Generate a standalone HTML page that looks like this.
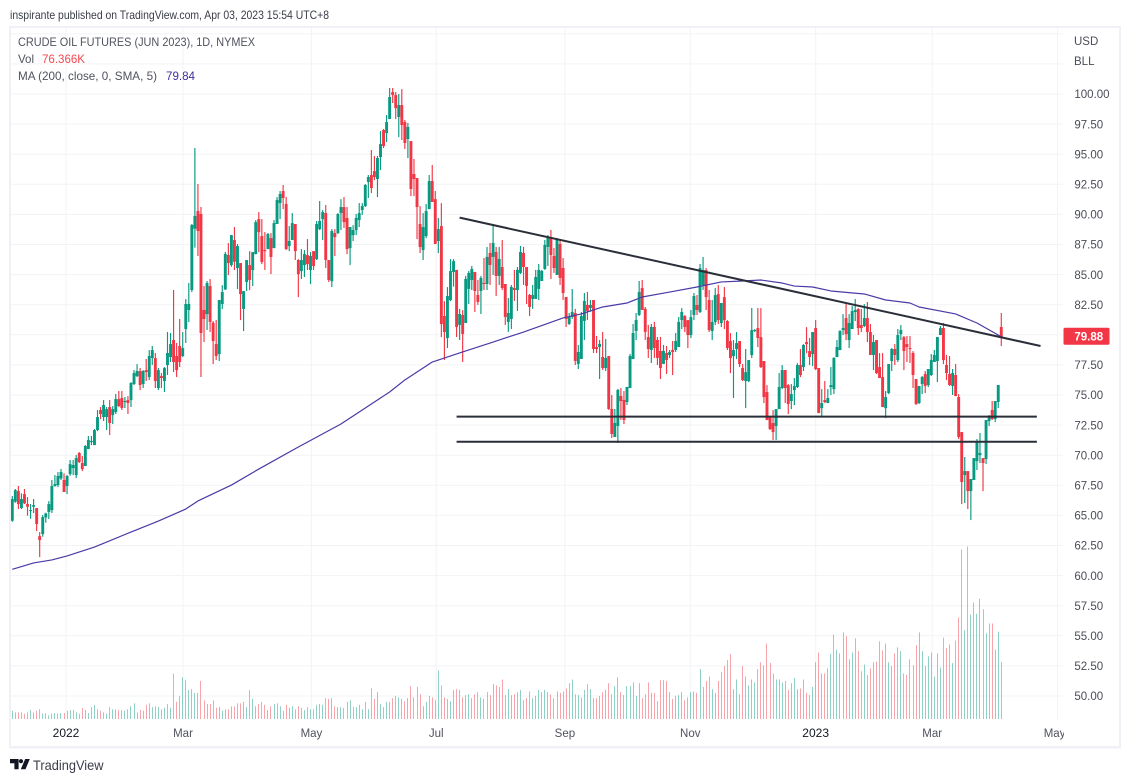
<!DOCTYPE html>
<html lang="en">
<head>
<meta charset="utf-8">
<title>Crude Oil Futures (Jun 2023) chart</title>
<style>
html,body{margin:0;padding:0;background:#fff;width:1130px;height:782px;overflow:hidden}
svg{display:block;font-family:"Liberation Sans",Arial,sans-serif}
</style>
</head>
<body>
<svg id="chart" xmlns="http://www.w3.org/2000/svg" width="1130" height="782" viewBox="0 0 1130 782">
  <defs><clipPath id="plot-clip"><rect x="10" y="28" width="1053" height="692"/></clipPath>
  <clipPath id="axis-clip"><rect x="11" y="722" width="1053" height="24"/></clipPath></defs>
  <text x="10" y="19" font-size="12" fill="#3a3d46" textLength="319" lengthAdjust="spacingAndGlyphs">inspirante published on TradingView.com, Apr 03, 2023 15:54 UTC+8</text>
  <g id="grid"></g>
  <g id="volumes" clip-path="url(#plot-clip)"></g>
  <g id="candles" clip-path="url(#plot-clip)"></g>
  <g id="ma" clip-path="url(#plot-clip)"></g>
  <g id="drawings"></g>
  <g id="y-axis"></g>
  <g id="x-axis" clip-path="url(#axis-clip)"></g>
  <g fill="#f0f0f6">
    <rect x="9" y="26" width="1112" height="2"/>
    <rect x="9" y="746" width="1112" height="2.5"/>
    <rect x="9" y="26" width="2" height="722"/>
    <rect x="1119" y="26" width="2" height="722"/>
  </g>
  <g font-size="12">
    <text x="18" y="46" fill="#50535e" textLength="237" lengthAdjust="spacingAndGlyphs">CRUDE OIL FUTURES (JUN 2023), 1D, NYMEX</text>
    <text x="18" y="63" fill="#50535e" textLength="16" lengthAdjust="spacingAndGlyphs">Vol</text>
    <text x="42" y="63" fill="#f5484f" textLength="43" lengthAdjust="spacingAndGlyphs">76.366K</text>
    <text x="18" y="80" fill="#50535e" textLength="139" lengthAdjust="spacingAndGlyphs">MA (200, close, 0, SMA, 5)</text>
    <text x="166" y="80" fill="#3f2f9e" textLength="29" lengthAdjust="spacingAndGlyphs">79.84</text>
  </g>
  <text x="1074" y="45" font-size="11.5" fill="#4a4d57">USD</text>
  <text x="1074" y="65" font-size="11.5" fill="#4a4d57">BLL</text>
  <g>
    <path fill="#131722" d="M10 759h8.6v10.2h-4.2v-6h-4.4zM25.2 759h4.6l-4.3 10.2h-4.7z"/>
    <circle cx="21" cy="761.2" r="2.1" fill="#131722"/>
    <text x="33" y="770" font-size="14" fill="#3b3e48" textLength="70.5" lengthAdjust="spacingAndGlyphs">TradingView</text>
  </g>
</svg>
<script>
const opens=[
62.95,64.56,66.14,67.02,65.61,66.77,65.94,65.39,65.72,65.61,
63.28,63.45,64.83,65.28,65.44,67.44,67.52,68.07,67.94,67.44,
68.43,68.93,68.35,70.18,69.35,69.10,70.51,71.09,70.84,72.09,
73.75,73.17,73.17,74.00,73.33,73.58,74.66,74.75,74.44,74.58,
74.58,75.91,76.57,76.99,75.91,77.07,76.49,78.07,78.07,75.58,
76.57,76.16,77.49,78.15,79.57,78.24,79.07,78.24,80.48,82.06,
83.72,88.81,90.28,90.03,82.06,81.72,84.05,81.00,79.23,78.40,
82.56,83.77,86.63,
85.79,87.87,85.54,85.96,82.14,84.38,85.79,85.38,86.70,89.61,
88.20,87.04,87.12,88.03,87.20,89.20,90.94,91.94,90.86,87.37,
87.87,89.20,86.21,85.29,85.79,86.62,85.38,86.95,86.29,88.78,
89.61,90.11,86.21,84.46,88.45,88.45,90.11,90.61,89.70,87.20,
88.28,88.70,89.53,90.36,90.69,92.69,93.27,93.60,92.94,94.76,
97.01,96.76,97.92,100.16,99.91,98.09,99.08,97.67,96.26,96.09,
93.35,93.02,89.20,87.04,88.20,90.44,92.77,91.27,87.79,89.03,
81.56,79.73,82.88,85.21,
85.39,80.82,81.65,80.98,83.81,84.55,85.22,83.31,83.64,84.31,
84.22,86.80,86.47,86.88,84.89,85.63,84.22,81.07,81.32,83.89,
83.72,85.14,86.80,85.63,83.31,82.98,82.98,83.81,84.47,85.47,
87.30,88.04,86.55,84.97,87.55,85.55,83.14,80.90,81.48,81.81,
77.58,77.99,81.15,82.48,82.23,82.89,78.99,78.99,78.16,77.24,
78.24,73.84,71.51,72.43,74.92,74.59,74.42,75.58,77.99,80.32,
81.65,83.89,82.15,79.82,78.74,80.65,79.57,78.66,77.58,78.49,
78.32,78.74,78.74,78.99,
81.22,81.56,81.22,79.98,81.64,82.47,81.89,84.13,85.38,82.89,
80.31,81.06,83.38,80.98,83.13,81.14,79.48,78.23,78.82,79.48,
77.24,76.16,76.16,78.32,80.31,80.56,79.81,77.82,75.24,73.25,
72.67,72.42,73.83,75.58,77.07,75.82,74.50,75.41,75.66,77.49,
77.32,79.40,78.65,78.40,80.56,77.24,73.91,74.58,74.33,75.66,
75.49,78.15,78.73,80.39,81.39,79.56,80.48,81.89,82.14,80.81,
80.73,81.39,80.23,78.32,79.56,77.32,76.49,73.91,75.16,77.82,
78.82,77.90,80.06,79.81,79.23,78.90,
78.49,76.33,74.33,75.91,76.74,75.83,76.66,77.74,77.82,79.98,
80.56,77.49,76.74,75.75,76.66,74.83,71.92,68.35,68.68,67.02,
67.94,69.51,70.01,69.76,69.68,72.84,73.75,73.00,74.42,80.65];

const closes=[
64.45,66.36,67.10,65.94,66.36,66.00,65.72,65.44,65.86,64.28,
62.95,64.86,65.17,65.94,67.44,67.60,68.27,68.60,66.94,68.27,
69.26,69.18,69.76,69.43,68.85,70.76,71.26,71.18,72.09,73.17,
73.42,74.17,73.83,72.67,73.83,74.66,74.08,73.92,74.50,74.33,
75.99,76.82,76.99,75.83,76.99,76.91,78.24,78.73,76.16,77.07,
76.41,77.24,78.49,79.23,77.74,77.07,77.74,78.90,82.56,82.56,
89.12,89.87,88.62,80.15,81.31,84.30,81.06,79.48,78.24,82.89,
83.55,86.71,85.96,
88.28,86.07,87.37,83.38,83.63,86.21,84.55,86.87,89.36,88.53,
86.04,86.95,88.37,86.46,89.28,91.19,91.69,91.36,87.12,87.79,
89.28,86.95,85.04,86.21,86.70,85.87,86.54,85.71,89.20,89.45,
90.19,86.21,84.55,88.62,88.12,90.03,90.61,89.36,87.12,88.95,
88.70,89.70,90.11,90.69,92.44,93.10,92.19,93.10,94.68,95.84,
95.68,97.67,99.75,99.91,98.83,99.08,97.42,95.93,97.26,92.11,
92.94,90.61,87.29,88.95,90.28,92.77,91.03,87.54,88.78,80.89,
80.23,83.22,85.29,86.12,
80.65,81.73,80.07,84.64,85.14,85.47,83.64,82.73,84.72,84.22,
86.47,85.80,87.63,84.89,86.30,83.89,81.48,81.81,83.97,83.72,
85.39,86.88,85.63,84.06,82.31,83.31,84.80,85.39,85.30,87.46,
88.04,86.63,85.55,87.96,84.72,83.47,81.32,81.48,81.90,77.83,
78.57,81.56,82.81,81.98,82.48,78.82,78.82,79.24,77.24,78.08,
73.84,71.76,72.68,75.42,74.50,72.93,75.67,78.24,80.15,81.23,
83.56,82.06,80.24,78.82,80.65,78.91,78.08,77.24,78.66,77.91,
78.57,78.57,79.49,81.07,
81.89,80.64,79.98,81.47,83.22,82.06,85.54,85.38,83.13,80.39,
81.06,83.30,81.22,82.64,81.22,78.90,78.07,78.73,79.31,77.57,
76.24,76.90,77.90,80.39,80.39,79.73,77.32,74.83,72.92,72.17,
71.92,73.83,75.66,77.07,75.58,74.25,75.08,75.74,77.49,76.66,
79.15,79.23,78.15,80.23,77.15,73.50,74.33,74.41,74.75,75.82,
78.07,78.98,80.31,80.56,80.06,80.98,81.97,82.06,80.56,80.56,
81.39,80.23,78.32,79.40,76.82,76.41,74.00,74.83,77.57,78.82,
78.32,79.98,80.39,78.65,78.98,78.82,
76.66,74.25,75.75,76.49,75.75,77.16,77.90,78.32,79.82,80.56,
77.90,76.83,75.83,76.83,74.91,71.51,67.77,68.68,67.02,68.02,
69.76,71.09,70.18,69.35,72.92,73.25,73.00,74.50,75.83,79.82];

const highs=[
64.45,66.61,67.19,67.44,66.83,67.19,66.52,65.94,66.36,65.61,
63.62,65.03,65.22,66.19,67.94,68.35,68.60,68.85,68.49,68.35,
69.60,69.60,70.01,70.26,69.93,70.84,71.59,71.59,72.17,73.75,
74.00,74.58,74.00,74.58,74.08,75.08,75.33,75.33,74.83,74.91,
76.07,77.07,77.57,77.24,77.07,77.99,78.73,79.07,78.49,77.24,
76.82,77.32,80.23,80.15,83.72,79.32,81.31,80.23,82.97,84.30,
89.20,95.51,92.52,90.61,84.05,84.47,84.63,81.14,81.23,82.89,
84.13,86.88,87.62,
88.28,88.95,87.54,85.96,83.63,86.21,86.95,86.87,89.53,90.19,
89.61,88.53,88.45,88.45,89.53,91.44,91.94,92.44,91.44,89.03,
90.11,89.20,86.29,87.12,87.04,87.95,86.87,86.95,89.45,91.11,
90.36,90.78,86.21,88.78,88.78,90.11,91.27,91.44,90.61,88.95,
89.11,90.03,90.94,90.94,92.52,93.27,95.35,94.85,94.85,96.92,
97.09,98.25,100.50,100.50,100.16,100.00,100.41,97.84,97.59,96.09,
94.60,93.02,90.69,90.11,90.86,93.27,94.10,91.94,89.70,90.94,
82.80,83.96,86.29,86.29,
85.39,82.15,82.06,84.89,85.30,85.72,85.22,84.55,84.89,86.38,
87.30,87.63,89.12,87.30,87.30,87.88,84.22,83.06,84.14,85.39,
85.63,87.38,87.30,85.63,83.39,84.14,85.39,85.88,85.39,87.88,
88.29,88.71,87.21,88.04,87.88,86.38,83.14,81.81,83.81,82.15,
79.16,81.90,83.47,83.56,82.89,82.89,79.90,79.57,80.24,79.65,
78.24,75.00,73.84,75.50,75.58,75.33,75.67,78.41,80.90,81.81,
84.47,84.55,82.31,80.82,80.90,81.07,79.82,79.82,79.16,79.07,
78.74,79.49,80.15,81.48,
82.22,81.64,81.22,82.06,83.47,83.30,85.88,86.46,85.54,83.72,
82.89,83.88,84.13,82.64,83.97,81.22,80.14,79.56,80.23,79.48,
77.57,78.82,77.90,82.22,80.48,82.22,82.22,77.82,75.82,73.25,
73.75,73.83,76.82,77.49,77.07,75.91,75.91,76.41,77.65,78.82,
79.23,80.64,79.73,80.23,81.22,77.24,75.49,76.16,75.49,77.32,
78.15,79.56,80.39,81.72,82.55,81.72,82.39,82.97,82.22,82.14,
82.55,82.72,80.89,79.98,79.56,78.48,78.48,75.33,77.57,78.90,
79.23,80.48,80.81,79.90,79.90,79.90,
78.65,76.33,75.75,76.58,76.99,77.16,78.40,78.74,79.82,80.73,
80.98,78.32,78.24,77.16,77.57,75.08,71.92,69.85,68.68,68.02,
69.76,71.34,71.84,69.76,72.92,73.34,74.50,74.50,75.83,81.81];

const lows=[
62.95,64.47,66.05,65.53,65.53,65.94,64.97,64.72,65.20,63.70,
61.54,63.23,64.39,64.70,65.19,67.38,67.35,67.94,66.94,66.77,
68.29,68.35,68.10,69.35,68.68,69.10,70.51,70.84,70.84,72.00,
73.00,72.84,72.09,71.67,72.59,73.42,74.00,73.75,73.92,73.42,
74.00,75.83,76.49,75.41,75.58,76.16,76.24,77.49,75.58,75.41,
75.58,75.25,76.66,77.74,76.91,76.49,77.32,78.15,79.32,81.06,
83.55,87.24,86.54,76.49,79.40,80.40,80.23,77.57,77.90,77.82,
82.14,83.72,84.96,
85.65,85.38,83.80,81.22,80.31,83.63,83.71,84.05,86.70,86.87,
85.87,85.38,87.12,85.04,87.20,89.20,89.61,90.44,87.04,86.95,
87.87,86.21,83.13,84.63,84.80,85.38,84.21,85.38,86.21,88.70,
87.87,85.54,84.38,83.96,86.54,88.37,88.70,88.87,86.70,85.79,
87.79,88.28,88.95,89.95,90.61,91.36,91.77,92.85,91.44,93.68,
95.51,96.01,97.92,99.25,97.92,96.42,96.18,95.43,94.68,91.52,
91.52,87.95,86.79,86.21,88.03,90.44,91.03,87.54,86.79,79.81,
77.90,78.90,82.80,84.00,
79.82,79.57,77.74,80.98,82.56,83.72,81.90,82.48,81.73,83.72,
83.72,84.14,84.97,83.23,84.14,83.72,80.82,80.24,80.48,82.81,
81.98,85.05,84.14,82.56,81.56,82.15,82.98,82.89,84.47,85.39,
85.72,84.64,85.14,84.97,84.14,82.89,80.65,80.82,81.32,77.49,
77.16,77.99,79.57,81.23,81.90,78.49,78.49,76.33,77.08,77.00,
73.76,71.43,71.51,71.01,72.93,72.59,74.17,75.58,77.99,79.57,
81.56,82.06,79.57,78.08,77.66,78.08,77.49,76.33,77.58,76.75,
78.08,76.66,78.57,78.99,
80.48,80.23,78.90,79.73,81.22,81.64,81.81,83.72,82.06,80.23,
79.56,80.81,80.89,80.64,80.48,78.73,76.82,74.75,77.98,77.32,
76.16,73.91,76.07,78.07,80.23,78.98,77.24,74.33,72.92,72.09,
71.26,71.26,73.83,75.49,74.33,73.42,73.83,74.16,75.58,76.49,
76.99,78.48,77.49,77.40,77.07,73.50,73.25,74.33,74.33,74.99,
75.08,78.15,78.73,79.98,79.56,78.90,80.48,81.14,79.98,80.23,
80.64,79.40,78.32,77.07,76.74,76.41,74.00,73.08,75.08,76.99,
77.49,77.74,79.56,77.07,77.74,77.65,
75.58,74.17,74.25,75.08,75.16,75.66,76.58,77.74,76.08,79.98,
77.57,76.24,75.75,75.00,74.91,71.34,65.94,66.03,65.53,64.61,
67.94,68.77,69.35,67.02,69.27,72.42,72.92,72.75,73.92,79.07];

const volumes=[
11,11,9,9,9,7,9,12,9,11,13,
7,8,5,7,8,7,8,8,11,
12,12,9,7,15,12,8,16,19,13,
11,9,7,16,13,13,12,12,11,13,
17,21,9,12,11,19,21,16,17,16,
13,15,20,15,61,23,31,56,52,39,
40,35,35,51,25,20,20,25,15,16,
11,13,13,17,17,21,21,23,16,39,
27,17,20,23,19,12,17,20,21,17,
11,19,15,17,13,17,15,12,16,
13,13,19,20,19,28,27,28,17,16,
16,15,23,25,16,16,19,13,23,13,
41,27,36,20,16,23,23,28,31,29,
27,24,28,44,29,43,33,17,23,
31,29,25,65,45,29,27,24,39,40,
39,29,32,33,28,33,36,29,27,36,
32,47,45,43,53,32,40,32,33,36,39,25,28,37,28,31,39,36,39,36,33,28,37,35,37,41,48,53,33,32,29,39,47,40,28,28,31,36,39,48,33,44,56,36,32,44,44,
49,31,48,28,33,49,35,35,24,52,
52,51,36,27,31,32,36,25,29,36,
37,35,67,43,51,57,40,35,51,63,
71,79,87,40,53,33,71,57,45,
53,49,67,76,72,101,75,61,53,53,
49,51,39,48,55,40,41,53,35,32,
43,76,89,61,61,68,87,113,93,88,
116,111,80,89,108,91,64,73,59,68,
76,77,104,92,101,76,71,88,96,
91,61,59,80,72,99,116,91,71,84,
89,57,88,69,109,95,100,75,105,136,
227,119,231,140,156,141,161,147,115,128,
128,93,117,76.366];

const maBars=[1,8,14,19,28,40,49,58,62,73,82,95,109,120,125,130,139,148,159,169,182,188,195,203,208,217,226,234,241,247,254,258,264,270,281,288,296,299,311,318,326];
const maValues=[60.52,61.05,61.30,61.63,62.37,63.62,64.53,65.53,66.20,67.52,68.85,70.68,72.59,74.42,75.25,76.25,77.74,78.49,79.40,80.23,81.40,81.73,82.31,82.64,83.14,83.55,83.97,84.39,84.47,84.55,84.30,84.05,83.97,83.64,83.39,82.89,82.64,82.31,81.73,80.98,79.84];

const priceTicks=[105,102.5,100,97.5,95,92.5,90,87.5,85,82.5,80,77.5,75,72.5,70,67.5,65,62.5,60,57.5,55,52.5,50];
const timeLabels=["2022","Mar","May","Jul","Sep","Nov","2023","Mar","May"];
const timeTickBars=[18.65,57.1,99.3,140.3,182.6,223.8,265,303.3,344.5];
const timeLabelStrong=[true,false,false,false,false,false,true,false,false];

const resistanceBars=[148,338.9];
const resistancePrices=[89.73,79.07];
const supportBars=[147,337.7];
const supportPrices=[73.2,71.12];
const lastClose=79.88;

function xOf(i){return 9.26+3.043*i;}
function yOf(p){return 94+(100-p)*12.04;}
function volY(v){return 719-v*0.7464;}

const NS='http://www.w3.org/2000/svg';
function make(tag,attrs,parent){
  const node=document.createElementNS(NS,tag);
  for(const k in attrs)node.setAttribute(k,attrs[k]);
  parent.appendChild(node);
  return node;
}

const GREEN='#089981',RED='#f23645';
const grid=document.getElementById('grid');
const yAxis=document.getElementById('y-axis');
const xAxis=document.getElementById('x-axis');

priceTicks.forEach(function(p){
  const y=yOf(p);
  const line=make('line',{x1:11,x2:1063,y1:y,y2:y,stroke:'#f2f3f6','stroke-width':1},grid);
  
  
  if(p<=100&&p!==80){
    const t=make('text',{x:1074.4,y:y+4.2,'font-size':11.5,fill:'#4a4d57'},yAxis);
    t.textContent=p.toFixed(2);
    
    
  }
});

timeTickBars.forEach(function(b,i){
  const x=xOf(b);
  const line=make('line',{x1:x,x2:x,y1:28,y2:720,stroke:'#f2f3f6','stroke-width':1},grid);
  
  
  const t=make('text',{x:i===timeTickBars.length-1?x-3:x,y:737,'font-size':timeLabelStrong[i]?12:11.5,'text-anchor':'middle',fill:timeLabelStrong[i]?'#131722':'#50535e'},xAxis);
  t.textContent=timeLabels[i];
  
  
});

const volGroup=document.getElementById('volumes');
volumes.forEach(function(v,i){
  const up=closes[Math.min(i,closes.length-1)]>=opens[Math.min(i,opens.length-1)];
  const top=volY(v);
  const bar=make('rect',{x:Math.round(xOf(i)-0.5),y:top,width:1,height:719-top,fill:up?'rgba(8,153,129,.45)':'rgba(242,54,69,.45)'},volGroup);
  
  
});

const candleGroup=document.getElementById('candles');
closes.forEach(function(c,i){
  const o=opens[i],up=c>=o,col=up?GREEN:RED,x=xOf(i);
  const wick=make('line',{x1:x,x2:x,y1:yOf(highs[i]),y2:yOf(lows[i]),stroke:col,'stroke-width':1.15},candleGroup);
  
  
  const top=yOf(Math.max(o,c)),bot=yOf(Math.min(o,c));
  const body=make('rect',{x:x-1.45,y:top,width:2.9,height:Math.max(bot-top,1),fill:col},candleGroup);
  
  
});

const maGroup=document.getElementById('ma');
const maPts=maBars.map(function(b,i){return xOf(b).toFixed(2)+','+yOf(maValues[i]).toFixed(2);}).join(' ');
const maLine=make('polyline',{points:maPts,fill:'none',stroke:'#4b3aa6','stroke-width':1.2,'stroke-linejoin':'round'},maGroup);



const drawings=document.getElementById('drawings');
const resistance=make('line',{x1:xOf(resistanceBars[0]),y1:yOf(resistancePrices[0]),x2:xOf(resistanceBars[1]),y2:yOf(resistancePrices[1]),stroke:'#2a2e39','stroke-width':2},drawings);


supportPrices.forEach(function(p,i){
  const h=make('line',{x1:xOf(supportBars[0]),x2:xOf(supportBars[1]),y1:yOf(p),y2:yOf(p),stroke:'#2a2e39','stroke-width':2},drawings);
  
  
});

const badgeY=yOf(lastClose);
const badge=make('rect',{x:1063.5,y:badgeY-8.5,width:46,height:17,rx:1.5,fill:RED},yAxis);


const badgeText=make('text',{x:1074.4,y:badgeY+4.2,'font-size':11.5,'font-weight':'bold',fill:'#fff'},yAxis);
badgeText.textContent=lastClose.toFixed(2);


</script>
</body>
</html>
